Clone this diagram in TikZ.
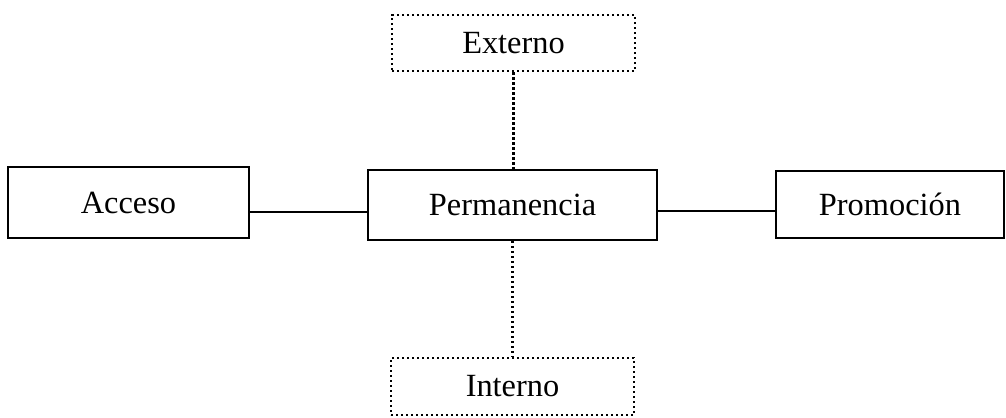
\documentclass[tikz,border=0pt]{standalone}
\usepackage{fontspec}
\setmainfont{Liberation Serif}
\begin{document}
\begin{tikzpicture}[x=1bp,y=-1bp,
  box/.style={draw=black,line width=1.8bp,fill=white,inner sep=0pt,font=\fontsize{32.5}{38}\selectfont},
  dotbox/.style={box,line width=2.6bp,dash pattern=on 2.4bp off 2.6bp},
  dotline/.style={line width=2.6bp,dash pattern=on 2.4bp off 2.6bp},
  solidline/.style={line width=1.8bp}]
\useasboundingbox (0,0) rectangle (1006,417);
\node[box,minimum width=241bp,minimum height=71bp] (acc) at (128.5,202.5) {Acceso};
\node[box,minimum width=289bp,minimum height=70bp] (perm) at (512.5,205) {Permanencia};
\node[box,minimum width=228bp,minimum height=67bp] (prom) at (890,204.5) {Promoción};
\node[dotbox,minimum width=243bp,minimum height=56bp] (ext) at (513.5,43) {Externo};
\node[dotbox,minimum width=243bp,minimum height=57bp] (int) at (512.5,386.5) {Interno};
\coordinate (a1) at ([yshift=-9.5bp]acc.east);
\coordinate (p1) at ([yshift=-6.5bp]prom.west);
\draw[solidline] (a1) -- (a1 -| perm.west);
\draw[solidline] (perm.east |- p1) -- (p1);
\draw[dotline] (ext.south) -- (ext.south |- perm.north);
\draw[dotline] (perm.south) -- (perm.south |- int.north);
\end{tikzpicture}
\end{document}
